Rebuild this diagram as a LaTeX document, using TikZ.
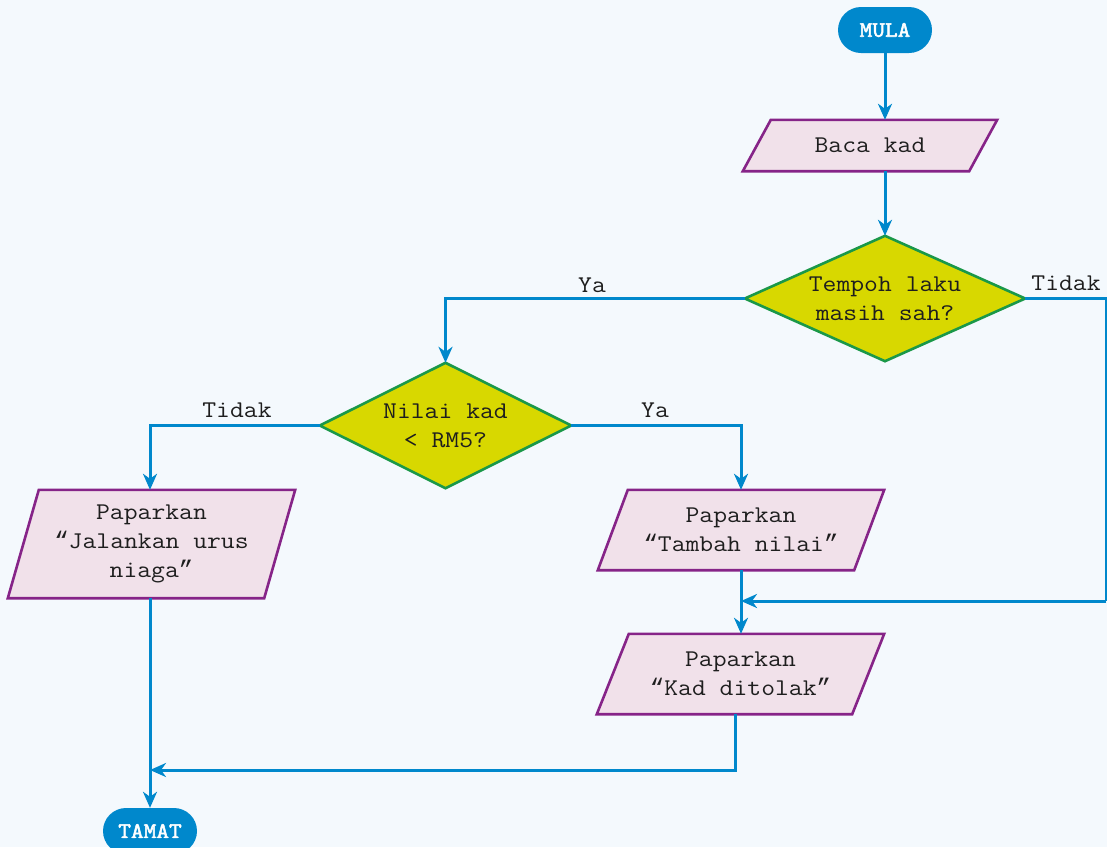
\documentclass[tikz,border=0pt]{standalone}
\usepackage{fontspec}
\newfontfamily\flowfont{Latin Modern Mono}[FakeStretch=1.12]
\newfontfamily\termfont{Latin Modern Mono}[FakeStretch=1.12, FakeBold=2.5]
\newfontfamily\quotefont{Liberation Mono}
% curly quotation marks, taken from a face that has them
\newcommand\oq{{\quotefont “}}
\newcommand\cq{{\quotefont ”}}
\usetikzlibrary{arrows.meta,backgrounds}

\definecolor{pagebg}{RGB}{244,249,253}
\definecolor{flowblue}{RGB}{0,136,204}
\definecolor{iofill}{RGB}{241,225,234}
\definecolor{ioline}{RGB}{134,36,136}
\definecolor{decfill}{RGB}{216,216,0}
\definecolor{decline}{RGB}{26,152,72}
\definecolor{ink}{RGB}{30,30,30}

% parallelogram drawn around a named node: name, slant
\newcommand\ioframe[2]{%
  \filldraw[fill=iofill, draw=ioline, line width=2.6pt]
    (#1.south west) -- ([xshift=#2]#1.north west) -- (#1.north east)
    -- ([xshift=-#2]#1.south east) -- cycle;}
% diamond drawn around a named node
\newcommand\decframe[1]{%
  \filldraw[fill=decfill, draw=decline, line width=2.6pt]
    (#1.north) -- (#1.east) -- (#1.south) -- (#1.west) -- cycle;}

\begin{document}
\begin{tikzpicture}[x=1pt, y=-1pt,
  txt/.style={font=\flowfont\fontsize{24}{29}\selectfont, text=ink,
    align=center, inner sep=0pt},
  terminal/.style={fill=flowblue, rounded corners=23pt, minimum width=94pt,
    minimum height=46pt, inner sep=0pt, text=white,
    font=\termfont\fontsize{22}{25}\selectfont},
  box/.style={txt, minimum width=#1},
  flow/.style={draw=flowblue, line width=3pt,
    -{Stealth[length=16pt, width=14pt, inset=5pt]}},
  lbl/.style={txt}]

\useasboundingbox (0,0) rectangle (1107,847);
\clip (0,0) rectangle (1107,847);
\begin{pgfonlayer}{background}
  \fill[pagebg] (0,0) rectangle (1107,847);
\end{pgfonlayer}

% terminals
\node[terminal] (mula) at (885,30) {MULA};
\node[terminal] (tamat) at (150,831) {TAMAT};

% text holders for the framed steps
\node[box=254pt, minimum height=51pt] (baca) at (870,145.5) {Baca kad};
\node[box=280pt, minimum height=125pt] (d1) at (885,298.5) {Tempoh laku\\masih sah?};
\node[box=251pt, minimum height=125pt] (d2) at (445.5,425.5) {Nilai kad\\< RM5?};
\node[box=287pt, minimum height=108pt] (pj) at (151.5,544) {Paparkan\\\oq Jalankan urus\\niaga\cq};
\node[box=286pt, minimum height=80pt] (tn) at (741,530) {Paparkan\\\oq Tambah nilai\cq};
\node[box=287pt, minimum height=80pt] (kd) at (740.5,674) {Paparkan\\\oq Kad ditolak\cq};

\begin{scope}[on background layer]
  \ioframe{baca}{28pt}
  \decframe{d1}
  \decframe{d2}
  \ioframe{pj}{31pt}
  \ioframe{tn}{30pt}
  \ioframe{kd}{32pt}
\end{scope}

% junction points
\coordinate (corner) at (1106,601);
\coordinate (joinA) at (741,601);
\coordinate (joinB) at (150,770);

% connectors
\draw[flow] (mula.south) -- (baca.north -| mula.south);
\draw[flow] (baca.south -| d1.north) -- (d1.north);
\draw[flow] (d1.west) -| (d2.north);
\draw[flow, -] (d1.east) -| (corner);
\draw[flow] (corner) -- (joinA);
\draw[flow] (d2.west) -| (pj.north -| tamat.north);
\draw[flow] (d2.east) -| (tn.north);
\draw[flow] (tn.south) -- (kd.north -| tn.south);
\draw[flow] ([xshift=-5.5pt]kd.south) |- (joinB);
\draw[flow] (pj.south -| tamat.north) -- (tamat.north);

% branch labels
\node[lbl] (ya1) at (592,285) {Ya};
\node[lbl] (tidak1) at (1066,283) {Tidak};
\node[lbl] (tidak2) at (237,410) {Tidak};
\node[lbl] (ya2) at (655,410) {Ya};
\end{tikzpicture}
\end{document}
